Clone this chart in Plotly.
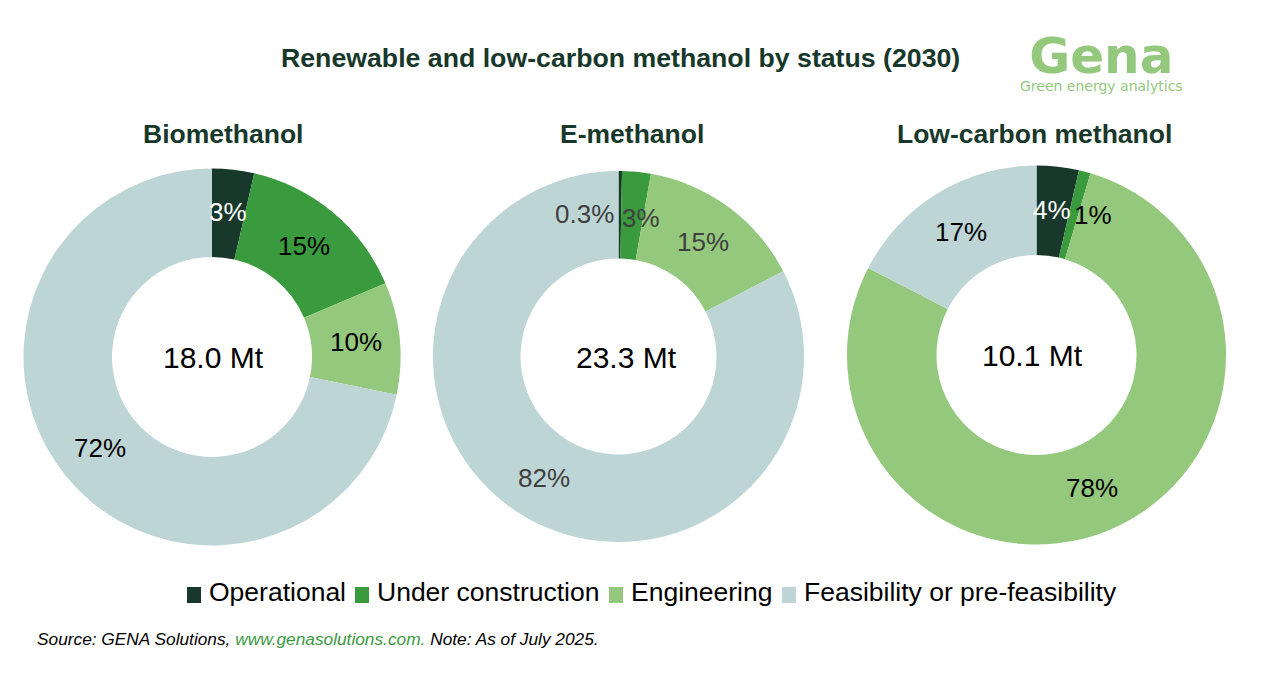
"""Renewable and low-carbon methanol by status, three donuts."""
import plotly.graph_objects as go

# page body has an 8px margin, so picture coords are shifted by this
OFF = 8
W, H = 1265, 665

statuses = ["Operational", "Under construction", "Engineering", "Feasibility or pre-feasibility"]
colors = ["#17382B", "#3A9A3E", "#94C87C", "#BDD5D5"]

bio_values = [3.6, 15.0, 9.6, 71.8]
emeoh_values = [0.3, 2.5, 14.6, 82.6]
lowc_values = [3.6, 1.0, 78.0, 17.4]

bio_labels = ["3%", "15%", "10%", "72%"]
emeoh_labels = ["0.3%", "3%", "15%", "82%"]
lowc_labels = ["4%", "1%", "78%", "17%"]

DARK = "#17382B"
LOGO = "#94C87C"
FONT = "Liberation Sans"


def px(x):
    return (x - OFF) / W


def py(y):
    return 1 - (y - OFF) / H


def add_text(text, x, y, size, color="black", bold=False, italic=False, family=FONT, anchor="center"):
    if bold:
        text = f"<b>{text}</b>"
    if italic:
        text = f"<i>{text}</i>"
    fig.add_annotation(text=text, x=px(x), y=py(y), xref="paper", yref="paper",
                       showarrow=False, xanchor=anchor, yanchor="middle",
                       font=dict(family=family, size=size, color=color))


fig = go.Figure()

donuts = [
    ("Biomethanol", bio_values, 212, 357, 188.5, 100),
    ("E-methanol", emeoh_values, 618.5, 356.5, 185.5, 98),
    ("Low-carbon methanol", lowc_values, 1036.5, 355, 189.5, 100),
]
for name, values, cx, cy, r, hole in donuts:
    fig.add_trace(go.Pie(
        labels=statuses, values=values, name=name, sort=False, direction="clockwise",
        rotation=0, hole=hole / r, textinfo="none", showlegend=False,
        marker=dict(colors=colors, line=dict(width=0)),
        domain=dict(x=[px(cx - r), px(cx + r)], y=[py(cy + r), py(cy - r)]),
    ))

fig.update_layout(
    width=W, height=H, margin=dict(l=0, r=0, t=0, b=0),
    paper_bgcolor="white", plot_bgcolor="white",
    font=dict(family=FONT, color="black"),
)

add_text("Renewable and low-carbon methanol by status (2030)", 620, 58, 26.7, DARK, bold=True)
add_text("Biomethanol", 223, 134, 26.5, DARK, bold=True)
add_text("E-methanol", 632, 134, 26.5, DARK, bold=True)
add_text("Low-carbon methanol", 1034, 134, 26.5, DARK, bold=True)

# slice labels sit where the source placed them, some off the slice centre
add_text(bio_labels[0], 228, 212, 26, "white")
add_text(bio_labels[1], 304, 246, 26)
add_text(bio_labels[2], 356, 342, 26)
add_text(bio_labels[3], 100, 448, 26)

add_text(emeoh_labels[0], 584, 214, 26, "#404040")
add_text(emeoh_labels[1], 641, 218, 26, "#404040")
add_text(emeoh_labels[2], 703, 242, 26, "#404040")
add_text(emeoh_labels[3], 544, 478, 26, "#404040")

add_text(lowc_labels[0], 1052, 210, 26, "white")
add_text(lowc_labels[1], 1093, 215, 26)
add_text(lowc_labels[2], 1092, 488, 26)
add_text(lowc_labels[3], 961, 232, 26)

add_text("18.0 Mt", 213.5, 357, 30)
add_text("23.3 Mt", 626, 357, 30)
add_text("10.1 Mt", 1032, 355, 30)

# hand placed legend, the built-in one leaves wider gaps than the source
legend_x = [187, 355, 609, 782]
for status, color, x in zip(statuses, colors, legend_x):
    fig.add_shape(type="rect", xref="paper", yref="paper", x0=px(x), x1=px(x + 14),
                  y0=py(603), y1=py(587), fillcolor=color, line_width=0)
    add_text(status, x + 20, 592, 26.5, anchor="left")

add_text("Source: GENA Solutions, <span style='color:#3A9A3E'>www.genasolutions.com.</span> "
         "Note: As of July 2025.", 317.5, 639, 17.3, italic=True)

# logo as one block so the two lines keep the tight spacing
add_text("<b><span style='font-size:50px'>Gena</span></b><br>Green energy analytics",
         1101, 61, 14, LOGO, family="DejaVu Sans")

fig.write_html("out.html")
